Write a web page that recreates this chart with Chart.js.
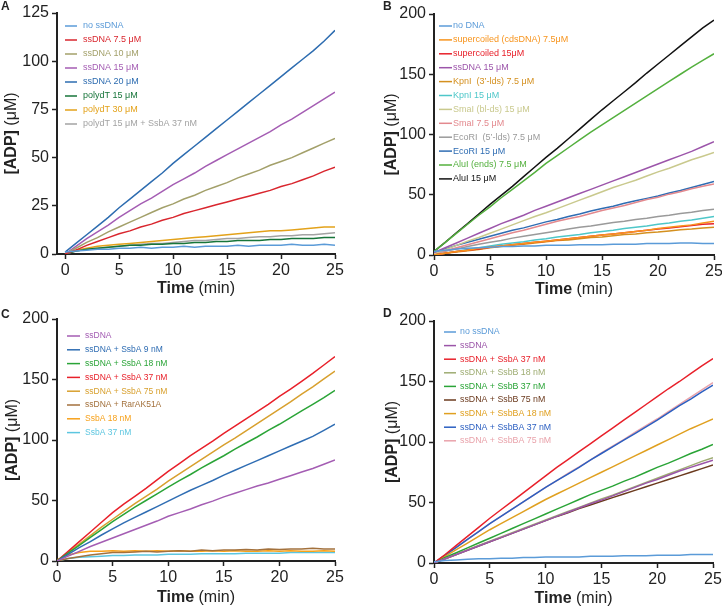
<!DOCTYPE html>
<html>
<head>
<meta charset="utf-8">
<script src="https://cdn.jsdelivr.net/npm/chart.js@4"></script>
<style>
  body { margin: 0; background: #fff; }
  canvas { position: absolute; }
</style>
</head>
<body>
<canvas id="a" width="361" height="300" style="left:0;top:0"></canvas>
<canvas id="b" width="361" height="300" style="left:361px;top:0"></canvas>
<canvas id="c" width="361" height="309" style="left:0;top:300px"></canvas>
<canvas id="d" width="361" height="309" style="left:361px;top:300px"></canvas>
<script>
// time points (min)
const times = [0,1,2,3,4,5,6,7,8,9,10,11,12,13,14,15,16,17,18,19,20,21,22,23,24,25];
const xTicks = [0,5,10,15,20,25];
const yTicksA = [0,25,50,75,100,125];
const yTicks = [0,50,100,150,200];

// panel A
const labelsA = ['no ssDNA','ssDNA 7.5 μM','ssDNA 10 μM','ssDNA 15 μM','ssDNA 20 μM','polydT 15 μM','polydT 30 μM','polydT 15 μM + SsbA 37 nM'];
const colorsA = ['#5b9bd8','#d9262e','#a3a06a','#a45db3','#2d6cb0','#17753a','#e3a21a','#a3a3a3'];
const a_noSs = [1,1.5,2,2.5,2.5,3,3,3.5,3,3.5,3.5,4,3.5,4,4,4,4.5,4,4.5,4.5,4.5,5,4.5,4.5,5,4.5];
const a_ss75 = [0,2,4.5,6.5,8.5,10.5,12,14,15.5,17.5,19,21,22.5,24,25.5,27,28.5,30,31.5,33,35,36.5,38.5,40.5,43,45];
const a_ss10 = [0,3,6,8.5,11.5,14,16.5,19,21.5,24,26,28.5,30.5,33,35,37,39.5,41.5,43.5,46,48,50,52.5,55,57.5,60];
const a_ss15 = [0,4,8,11.5,15,19,22.5,26,29,32.5,36,39,42,45.5,48.5,51.5,54.5,57.5,60.5,63.5,67,70,73.5,77,80.5,84];
const a_ss20 = [1,5.5,10,14.5,19,24,28.5,33,37.5,42,47,51.5,56,60.5,65,69.5,74,78.5,83,87.5,92,96.5,101,105.5,110.5,116];
const a_dT15 = [0,1.5,2.5,3,3.5,4,4.5,4.5,5,5,5.5,5.5,6,6,6.5,6.5,7,7,7,7.5,7.5,8,8,8,8.5,8.5];
const a_dT30 = [0,2,3,4,4.5,5,5.5,6,6.5,7,7.5,8,8.5,9,9.5,10,10.5,11,11.5,12,12,12.5,13,13.5,14,14];
const a_dT15Ssb = [0,1.5,2.5,3,3.5,4,4.5,5,5.5,5.5,6,6.5,7,7,7.5,8,8,8.5,9,9,9.5,9.5,10,10,10.5,11];

// panel B
const labelsB = ['no DNA','supercoiled (cdsDNA) 7.5μM','supercoiled 15μM','ssDNA 15 μM','KpnI  (3’-lds) 7.5 μM','KpnI 15 μM','SmaI (bl-ds) 15 μM','SmaI 7.5 μM','EcoRI  (5’-lds) 7.5 μM','EcoRI 15 μM','AluI (ends) 7.5 μM','AluI 15 μM'];
const colorsB = ['#5b9bd8','#f7941d','#e8202a','#9c55aa','#d4901f','#4ec7c9','#c9c98d','#e3898e','#9a9a9a','#2f6db3','#54b03e','#111111'];
const b_noDNA = [3,4,5,5.5,6,6.5,7,7,7.5,7.5,8,8,8,8.5,8.5,8.5,9,9,9,9.5,9.5,9.5,10,10,9.5,9.5];
const b_sc75 = [0,1.5,3,4,5.5,6.5,7.5,8.5,9.5,10.5,11.5,12.5,13.5,14.5,15.5,16.5,17.5,18.5,19.5,20.5,22,23,24,25,26.5,28];
const b_sc15 = [0,1.5,3,4,5,6.5,7.5,8.5,9.5,10.5,11.5,12.5,13.5,14.5,15.5,16.5,17.5,18.5,19.5,20.5,21.5,22.5,23.5,24.5,25.5,26];
const b_ss15 = [2,6,10,14,18,22,26,29.5,33,37,40.5,44,47.5,51,54.5,58,61.5,65,68.5,72,75.5,79,82.5,86,90,94];
const b_kpn75 = [0,1.5,2.5,3.5,4.5,6,7,8,9,10,11,12,12.5,13.5,14.5,15,16,17,17.5,18.5,19,20,21,21.5,22.5,23];
const b_kpn15 = [0,1.5,3,4.5,6,7.5,9,10,11,12.5,13.5,15,16,17,18.5,19.5,20.5,22,23,24,25.5,26.5,28,29,30.5,32];
const b_sma15 = [1,4.5,8,11.5,14.5,18,21.5,25,28.5,32,35,38.5,42,45.5,49,52.5,56,59,62,65.5,69,72,75.5,79,82,85];
const b_sma75 = [1,3.5,6,8.5,11,13.5,16,18.5,20.5,23,25.5,28,30,32,34.5,37,39,41,43.5,46,48,50.5,52.5,55,57,59];
const b_eco75 = [1,3,5,7,9,10.5,12,14,15.5,17,18.5,20,21.5,23,24,25.5,27,28,29.5,30.5,32,33,34.5,35.5,37,38];
const b_eco15 = [2,5,8,10.5,13,15.5,18,20.5,22.5,25,27.5,29.5,32,34,36.5,38.5,40.5,43,45,47,49,51.5,53.5,56,58.5,61];
const b_alu75 = [3,10.5,18,25.5,33,40,47.5,54.5,61.5,68.5,76,82.5,89,95.5,102,108,114,120,126,132,138,144,150,156,161.5,167];
const b_alu15 = [3,10.5,18.5,26,34,42,49.5,57,65,73,81,88.5,96.5,104.5,112.5,120.5,128,135.5,143,151,158.5,166,173.5,181,188.5,195];

// panel C
const labelsC = ['ssDNA','ssDNA + SsbA 9 nM','ssDNA + SsbA 18 nM','ssDNA + SsbA 37 nM','ssDNA + SsbA 75 nM','ssDNA + RarAK51A','SsbA 18 nM','SsbA 37 nM'];
const colorsC = ['#a45db3','#2f6db3','#2aa437','#e8202a','#d8a02e','#a3713c','#f7a11a','#5cc6e0'];
const c_ss = [0,4,8,12,15.5,19,22.5,26,29.5,33,37,40,43,46.5,49.5,53,56,59,62,64.5,67.5,70.5,73.5,76.5,80,83.5];
const c_a9 = [0,5.5,11,16,21.5,26.5,31.5,36,40.5,45,49.5,54,58.5,62.5,66.5,71,75,79,83,87,91,95,99,103,108,113];
const c_a18 = [0,6.5,13,19.5,26,32.5,38.5,44.5,50,55.5,61,66.5,71.5,77,82,87,92.5,97.5,102.5,108,113,118.5,124,129.5,135,141];
const c_a37 = [0,8,16,24,32,40,47,53.5,60,67,74,80.5,87,93,99,105.5,111.5,117.5,123.5,129.5,136,142,148.5,155,162,169];
const c_a75 = [0,7,14,21,28,34.5,41,47.5,53.5,59.5,66,72,78,84,90,96,101.5,107.5,113.5,119.5,125.5,131.5,138,144,150.5,157];
const c_rar = [0,2,3.5,5,6,7,7,7.5,8,7.5,8,8.5,8,9,8.5,9,9,9.5,9,10,9.5,10,10,10.5,10,10];
const c_ssbA18 = [1,5,7,8,8,8.5,8,8.5,8,8.5,8,8.5,8,8,8.5,8,8.5,8,8,8.5,8,8.5,8,8,8.5,8];
const c_ssbA37 = [0,2,3,3.5,4,4.5,4.5,5,5,5,5.5,5.5,5.5,6,6,6,6,6.5,6.5,6.5,6.5,7,7,7,7,7];

// panel D
const labelsD = ['no ssDNA','ssDNA','ssDNA + SsbA 37 nM','ssDNA + SsbB 18 nM','ssDNA + SsbB 37 nM','ssDNA + SsbB 75 nM','ssDNA + SsbBA 18 nM','ssDNA + SsbBA 37 nM','ssDNA + SsbBA 75 nM'];
const colorsD = ['#5b9bd8','#9b55a8','#e8202a','#9eac72','#2aa437','#6b3a1e','#e0a020','#2b5fc1','#e9a3ab'];
const d_noSs = [1,2,2.5,3,3.5,3.5,4,4,4.5,4.5,5,5,5,5,5.5,5.5,5.5,6,6,6,6.5,6.5,6.5,7,7,7];
const d_ss = [0,3.5,7,10.5,14,17.5,21,24.5,28,31.5,35,38.5,42,45.5,49,52,55.5,59,62.5,66,69,72.5,76,79,82,85];
const d_a37 = [0,7,14.5,22,29.5,37,44,51,58,65,72,79,85.5,92,98.5,105,111.5,118,124.5,131,137.5,144,150,156.5,163,169];
const d_b18 = [0,3.5,7,11,14.5,18,21.5,25,28.5,32,35.5,39,42.5,46,49.5,53,56,59.5,63,66.5,70,73.5,77,80.5,84,87];
const d_b37 = [0,4.5,8.5,12.5,16.5,20.5,24.5,28.5,32.5,36.5,40.5,44.5,48.5,52.5,56.5,60,63.5,67.5,71,75,79,82.5,86.5,90.5,94,98];
const d_b75 = [0,3.5,7,10.5,14,17.5,21,24.5,28,31.5,35,38.5,41.5,45,48,51,54,57,60,63,66,69,72,75,78,81];
const d_ba18 = [0,5.5,11,16.5,22,27.5,32.5,37.5,42.5,47.5,52.5,57,61.5,66,70.5,75,79.5,84,88.5,93,97.5,102,106.5,111,115,119];
const d_ba37 = [0,6.5,13,19.5,26,32.5,38.5,44.5,50.5,56.5,62.5,68,73.5,79,85,90.5,96,101.5,107,112.5,118,124,130,135.5,141.5,147];
const d_ba75 = [0,6.5,13,19.5,26,32.5,38.5,44.5,50.5,56.5,62.5,68,74,79.5,85,91,96.5,102,108,113.5,119,125,131,137,143,149];

const FONT = "'Liberation Sans', Arial, Helvetica, sans-serif";
Chart.defaults.font.family = FONT;
Chart.defaults.color = '#222';

function series(labels, colors, values) {
  return values.map((v, i) => ({
    label: labels[i],
    data: times.map((t, j) => ({ x: t, y: v[j] })),
    borderColor: colors[i],
    borderWidth: 1.5,
    pointRadius: 0,
    tension: 0,
    fill: false
  }));
}

function drawMixed(ctx, parts, x, y) {
  let w = 0;
  parts.forEach(p => { ctx.font = p.font; w += ctx.measureText(p.text).width; });
  let cx = x - w / 2;
  parts.forEach(p => { ctx.font = p.font; ctx.fillText(p.text, cx, y); cx += ctx.measureText(p.text).width; });
}

const decor = {
  id: 'decor',
  afterDraw(chart, args, o) {
    const ctx = chart.ctx, a = chart.chartArea;
    ctx.save();
    ctx.fillStyle = '#222';
    ctx.textBaseline = 'top';
    ctx.font = 'bold 12px ' + FONT;
    ctx.fillText(o.letter, o.letterX, o.letterY);

    // legend inside the plot
    ctx.textBaseline = 'middle';
    ctx.font = o.legendSize + 'px ' + FONT;
    chart.data.datasets.forEach((d, i) => {
      const x = a.left + o.legendX, y = a.top + o.legendY + i * o.legendGap;
      ctx.strokeStyle = d.borderColor;
      ctx.lineWidth = 1.5;
      ctx.beginPath(); ctx.moveTo(x, y); ctx.lineTo(x + o.lineLen, y); ctx.stroke();
      ctx.fillStyle = d.borderColor;
      ctx.fillText(d.label, x + o.textGap, y);
    });

    // axis titles
    ctx.fillStyle = '#222';
    ctx.textBaseline = 'middle';
    drawMixed(ctx, [{ text: 'Time', font: 'bold 16px ' + FONT }, { text: ' (min)', font: '16px ' + FONT }],
      (a.left + a.right) / 2, a.bottom + o.xTitleOff);
    ctx.translate(a.left - o.yTitleOff, (a.top + a.bottom) / 2);
    ctx.rotate(-Math.PI / 2);
    drawMixed(ctx, [{ text: '[ADP]', font: 'bold 16px ' + FONT }, { text: ' (μM)', font: '16px ' + FONT }], 0, 0);
    ctx.restore();
  }
};

function makeChart(id, datasets, p) {
  new Chart(document.getElementById(id), {
    type: 'line',
    data: { datasets },
    plugins: [decor],
    options: {
      responsive: false,
      animation: false,
      layout: { padding: { top: p.top, right: p.right, left: 0, bottom: 0 } },
      plugins: { legend: { display: false }, tooltip: { enabled: false }, decor: p.decor },
      scales: {
        x: {
          type: 'linear', min: p.xMin, max: 25,
          afterBuildTicks: s => { s.ticks = xTicks.map(v => ({ value: v })); },
          afterFit: s => { s.height = p.xHeight; s.paddingLeft = 0; s.paddingRight = 0; },
          ticks: { font: { size: 16 }, padding: 2, maxRotation: 0, color: '#222' },
          grid: { drawOnChartArea: false, tickLength: 5, tickWidth: 1.5, tickColor: '#222' },
          border: { color: '#222', width: 2 }
        },
        y: {
          min: 0, max: p.yMax,
          afterBuildTicks: s => { s.ticks = p.yTicks.map(v => ({ value: v })); },
          afterFit: s => { s.width = p.left; s.paddingTop = 0; s.paddingBottom = 0; },
          ticks: { font: { size: 16 }, padding: 3, color: '#222' },
          grid: { drawOnChartArea: false, tickLength: 5, tickWidth: 1.5, tickColor: '#222' },
          border: { color: '#222', width: 2 }
        }
      }
    }
  });
}

makeChart('a', series(labelsA, colorsA, [a_noSs, a_ss75, a_ss10, a_ss15, a_ss20, a_dT15, a_dT30, a_dT15Ssb]), {
  top: 13, right: 26, left: 57, xHeight: 46, xMin: -0.75, yMax: 125, yTicks: yTicksA,
  decor: { letter: 'A', letterX: 1, letterY: 1, legendX: 8, legendY: 13, legendGap: 14, legendSize: 9, lineLen: 12, textGap: 18, xTitleOff: 35, yTitleOff: 45 }
});
makeChart('b', series(labelsB, colorsB, [b_noDNA, b_sc75, b_sc15, b_ss15, b_kpn75, b_kpn15, b_sma15, b_sma75, b_eco75, b_eco15, b_alu75, b_alu15]), {
  top: 14, right: 8, left: 73, xHeight: 45, xMin: 0, yMax: 200, yTicks: yTicks,
  decor: { letter: 'B', letterX: 22, letterY: 1, legendX: 5, legendY: 12, legendGap: 13.9, legendSize: 9, lineLen: 13, textGap: 14, xTitleOff: 35, yTitleOff: 42 }
});
makeChart('c', series(labelsC, colorsC, [c_ss, c_a9, c_a18, c_a37, c_a75, c_rar, c_ssbA18, c_ssbA37]), {
  top: 19, right: 26, left: 57, xHeight: 48, xMin: 0, yMax: 200, yTicks: yTicks,
  decor: { letter: 'C', letterX: 1, letterY: 9, legendX: 10, legendY: 17, legendGap: 13.8, legendSize: 8.5, lineLen: 13, textGap: 18, xTitleOff: 37, yTitleOff: 44 }
});
makeChart('d', series(labelsD, colorsD, [d_noSs, d_ss, d_a37, d_b18, d_b37, d_b75, d_ba18, d_ba37, d_ba75]), {
  top: 21, right: 9, left: 73, xHeight: 46, xMin: 0, yMax: 200, yTicks: yTicks,
  decor: { letter: 'D', letterX: 22, letterY: 8, legendX: 10, legendY: 11, legendGap: 13.6, legendSize: 8.8, lineLen: 12, textGap: 16, xTitleOff: 36, yTitleOff: 41 }
});
</script>
</body>
</html>
